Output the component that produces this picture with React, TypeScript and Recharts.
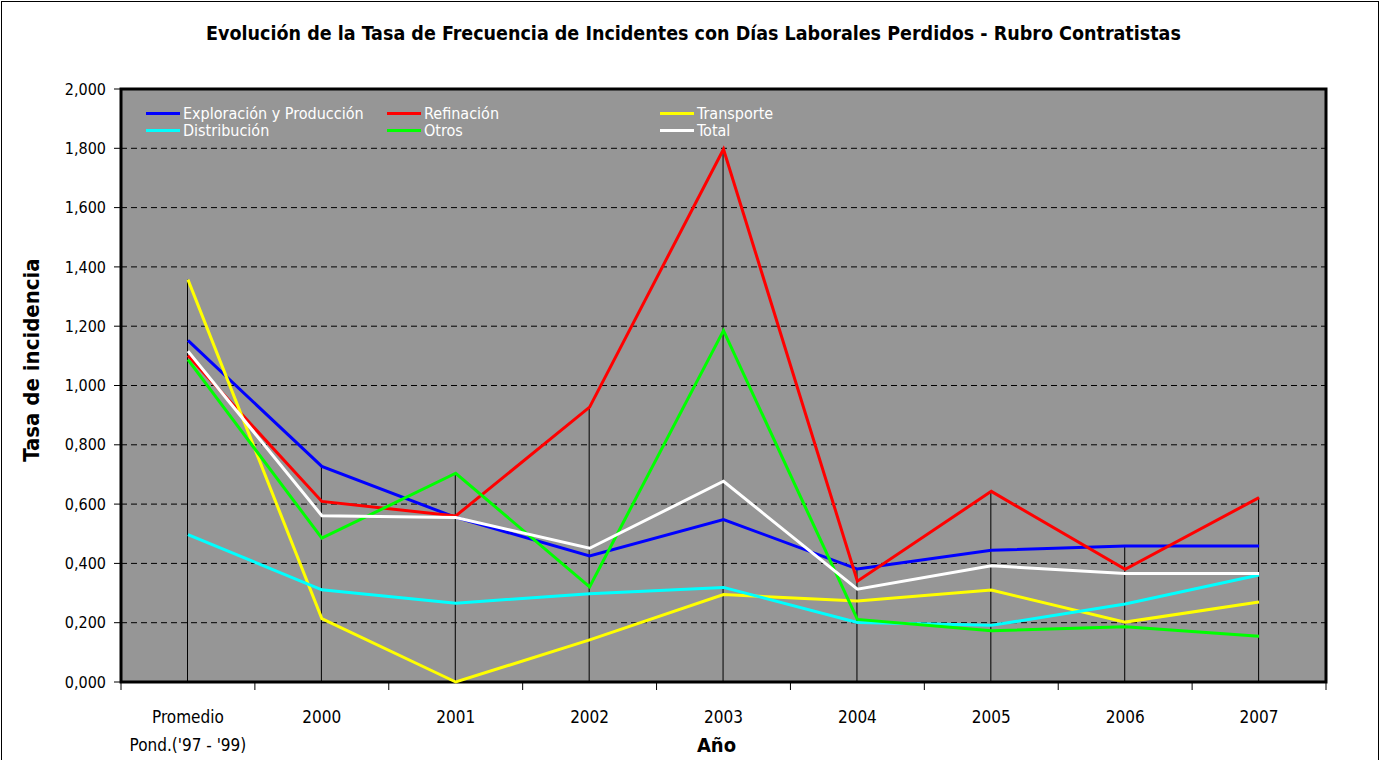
import React from "react";
import { ComposedChart, Line, Bar, XAxis, YAxis, CartesianGrid, ReferenceArea } from "recharts";

const categories = ["Promedio Pond.('97 - '99)", "2000", "2001", "2002", "2003", "2004", "2005", "2006", "2007"];

const exploracion = [1.152, 0.727, 0.555, 0.425, 0.548, 0.381, 0.444, 0.459, 0.459];
const refinacion = [1.101, 0.609, 0.56, 0.927, 1.797, 0.34, 0.643, 0.38, 0.622];
const transporte = [1.357, 0.214, 0.0, 0.142, 0.295, 0.273, 0.31, 0.202, 0.27];
const distribucion = [0.497, 0.311, 0.266, 0.298, 0.319, 0.201, 0.191, 0.263, 0.361];
const otros = [1.087, 0.485, 0.704, 0.321, 1.185, 0.211, 0.173, 0.186, 0.154];
const total = [1.116, 0.561, 0.555, 0.451, 0.677, 0.313, 0.392, 0.366, 0.366];

const yTicks = [0, 0.2, 0.4, 0.6, 0.8, 1.0, 1.2, 1.4, 1.6, 1.8, 2.0];

const series = [
  { key: "exploracion", name: "Exploración y Producción", color: "#0000FF", values: exploracion },
  { key: "refinacion", name: "Refinación", color: "#FF0000", values: refinacion },
  { key: "transporte", name: "Transporte", color: "#FFFF00", values: transporte },
  { key: "distribucion", name: "Distribución", color: "#00FFFF", values: distribucion },
  { key: "otros", name: "Otros", color: "#00FF00", values: otros },
  { key: "total", name: "Total", color: "#FFFFFF", values: total },
];

const data = categories.map((cat, i) => {
  const row: any = { cat };
  series.forEach((s) => (row[s.key] = s.values[i]));
  row.max = Math.max(...series.map((s) => s.values[i]));
  return row;
});

const FONT = "'Liberation Sans Narrow', 'DejaVu Sans Condensed', 'Arial Narrow', sans-serif";
const W = 1379;
const H = 760;
const margin = { top: 89, right: 53, bottom: 0, left: 0 };
const Y_WIDTH = 121;
const X_HEIGHT = 78;
const band = (W - margin.right - Y_WIDTH) / categories.length;

const fmt = (v: number) => v.toFixed(3).replace(".", ",");

function XTick(props: any) {
  const { x, y, payload, index } = props;
  const label: string = payload.value;
  const lines = label.startsWith("Promedio") ? ["Promedio", "Pond.('97 - '99)"] : [label];
  return (
    <g>
      <line x1={x - band / 2} x2={x - band / 2} y1={y} y2={y + 8} stroke="#000" strokeWidth={1} />
      {index === categories.length - 1 && (
        <line x1={x + band / 2} x2={x + band / 2} y1={y} y2={y + 8} stroke="#000" strokeWidth={1} />
      )}
      {lines.map((l, i) => (
        <text key={i} x={x} y={y + 41 + i * 28} textAnchor="middle" fontSize={17} fontFamily={FONT} fill="#000">
          {l}
        </text>
      ))}
    </g>
  );
}

function LegendBox() {
  const cols = [0, 241, 514];
  return (
    <div
      style={{
        position: "absolute",
        left: 146,
        top: 105,
        width: 700,
        height: 36,
        fontFamily: FONT,
        fontSize: 16,
        color: "#fff",
      }}
    >
      {series.map((s, i) => (
        <div
          key={s.key}
          style={{
            position: "absolute",
            left: cols[i % 3],
            top: Math.floor(i / 3) * 17,
            display: "flex",
            alignItems: "center",
            lineHeight: "17px",
            whiteSpace: "nowrap",
          }}
        >
          <span style={{ display: "inline-block", width: 34, height: 3, background: s.color, marginRight: 3 }} />
          {s.name}
        </div>
      ))}
    </div>
  );
}

export default function App() {
  return (
    <div
      style={{
        position: "absolute",
        left: 0,
        top: 0,
        width: W,
        height: H,
        background: "#fff",
        overflow: "hidden",
      }}
    >
      <div
        style={{
          position: "absolute",
          top: 22,
          left: 4,
          width: W,
          textAlign: "center",
          fontFamily: FONT,
          fontWeight: "bold",
          fontSize: 19.5,
          color: "#000",
        }}
      >
        Evolución de la Tasa de Frecuencia de Incidentes con Días Laborales Perdidos - Rubro Contratistas
      </div>
      <ComposedChart width={W} height={H} data={data} margin={margin}>
        <CartesianGrid vertical={false} fill="#969696" stroke="#000" strokeDasharray="6 4" />
        <ReferenceArea y1={0} y2={2} fill="none" stroke="#000" strokeWidth={3} ifOverflow="visible" />
        <XAxis
          dataKey="cat"
          height={X_HEIGHT}
          axisLine={false}
          tickLine={false}
          tickSize={0}
          tickMargin={0}
          interval={0}
          tick={<XTick />}
          label={{
            content: ({ viewBox }: any) => (
              <text
                x={viewBox.x + viewBox.width / 2 - 7}
                y={viewBox.y + 70}
                textAnchor="middle"
                fontSize={20}
                fontWeight="bold"
                fontFamily={FONT}
                fill="#000"
              >
                Año
              </text>
            ),
          }}
        />
        <YAxis
          width={Y_WIDTH}
          domain={[0, 2]}
          ticks={yTicks}
          interval={0}
          tickFormatter={fmt}
          axisLine={false}
          tickLine={{ stroke: "#000" }}
          tickSize={7}
          tickMargin={8}
          tick={{ fill: "#000", fontSize: 16, fontFamily: FONT }}
          label={{
            content: ({ viewBox }: any) => (
              <text
                x={39}
                y={viewBox.y + 271}
                transform={`rotate(-90, 39, ${viewBox.y + 271})`}
                textAnchor="middle"
                fontSize={22}
                fontWeight="bold"
                fontFamily={FONT}
                fill="#000"
              >
                Tasa de incidencia
              </text>
            ),
          }}
        />
        <Bar dataKey="max" barSize={1} fill="#000" legendType="none" isAnimationActive={false} />
        {series.map((s) => (
          <Line
            key={s.key}
            type="linear"
            dataKey={s.key}
            name={s.name}
            stroke={s.color}
            strokeWidth={3}
            dot={false}
            activeDot={false}
            isAnimationActive={false}
          />
        ))}
      </ComposedChart>
      <LegendBox />
      <div
        style={{
          position: "absolute",
          left: 1,
          top: 1,
          width: W - 3,
          height: H + 4,
          border: "1px solid #000",
          pointerEvents: "none",
        }}
      />
    </div>
  );
}
